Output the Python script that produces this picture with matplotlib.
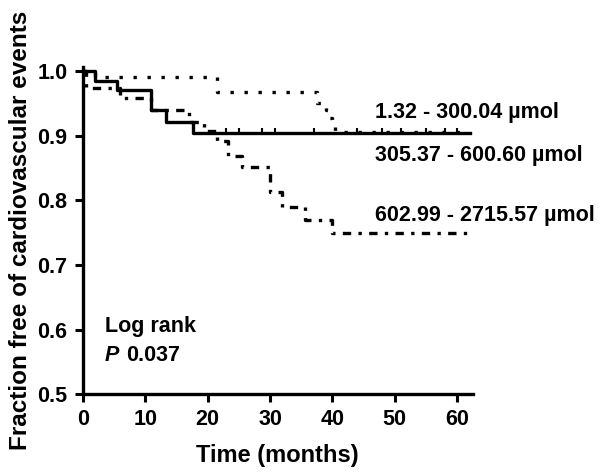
import numpy as np
from matplotlib import pyplot as plt

plt.rcParams['font.family'] = ['Liberation Sans', 'DejaVu Sans']
plt.rcParams['font.weight'] = 'bold'

# Kaplan-Meier step data (time in months, fraction event-free)
low_t = [0, 2, 21.5, 37.5, 39, 39.5, 40, 40.4, 62]
low_s = [1.0, 0.99, 0.968, 0.95, 0.94, 0.927, 0.916, 0.905, 0.905]

mid_t = [0, 2, 5.5, 11, 13.3, 17.6, 62]
mid_s = [1.0, 0.985, 0.97, 0.94, 0.921, 0.904, 0.904]

high_t = [0, 0.5, 6, 11, 17, 19.5, 21.5, 23.3, 25.5, 30, 32, 35.6, 40, 62]
high_s = [1.0, 0.973, 0.958, 0.94, 0.921, 0.907, 0.891, 0.868, 0.851,
          0.812, 0.79, 0.769, 0.749, 0.749]

mid_censor = [23, 25, 28.7, 30.8, 37, 44, 48, 51, 55, 58, 60]

labels = ["1.32 - 300.04 \u00b5mol", "305.37 - 600.60 \u00b5mol", "602.99 - 2715.57 \u00b5mol"]
label_y = [0.936, 0.870, 0.777]

xticks = [0, 10, 20, 30, 40, 50, 60]
yticks = [0.5, 0.6, 0.7, 0.8, 0.9, 1.0]

fs = 15.5

fig = plt.figure(figsize=(6, 4.76), dpi=100)
ax = fig.add_axes([0.138, 0.172, 0.650, 0.687])

ax.plot(low_t, low_s, drawstyle='steps-post', color='black', lw=2.4,
        linestyle=(0, (1, 3.2)))
ax.plot(mid_t, mid_s, drawstyle='steps-post', color='black', lw=2.4)
ax.plot(high_t, high_s, drawstyle='steps-post', color='black', lw=2.4,
        linestyle=(0, (2.5, 2.2, 1, 2.2)))
ax.plot(mid_censor, [mid_s[-1] + 0.003] * len(mid_censor), linestyle='none',
        marker='|', markersize=4, mew=1.5, color='black')

for lab, yy in zip(labels, label_y):
    ax.text(46.9, yy, lab, fontsize=fs, fontweight='bold', va='center',
            ha='left', clip_on=False)

ax.text(3.5, 0.604, "Log rank", fontsize=fs, fontweight='bold', va='center')
ax.text(3.5, 0.559, "P", fontsize=fs, fontweight='bold', fontstyle='italic',
        va='center')
ax.text(6.9, 0.559, "0.037", fontsize=fs, fontweight='bold', va='center')

ax.set_xlim(0, 62.5)
ax.set_ylim(0.5, 1.006)
ax.set_xticks(xticks)
ax.set_yticks(yticks)
ax.set_yticklabels(["%.1f" % v for v in yticks])
ax.tick_params(direction='out', length=6, width=2.2, labelsize=fs, pad=5)
for lab in ax.get_xticklabels() + ax.get_yticklabels():
    lab.set_fontweight('bold')

for side in ['top', 'right']:
    ax.spines[side].set_visible(False)
for side in ['left', 'bottom']:
    ax.spines[side].set_linewidth(2.4)

ax.set_xlabel("Time (months)", fontsize=17, fontweight='bold', labelpad=10)
ax.set_ylabel("Fraction free of cardiovascular events", fontsize=17.5,
              fontweight='bold', labelpad=4)

fig.savefig("out.png", dpi=100)
